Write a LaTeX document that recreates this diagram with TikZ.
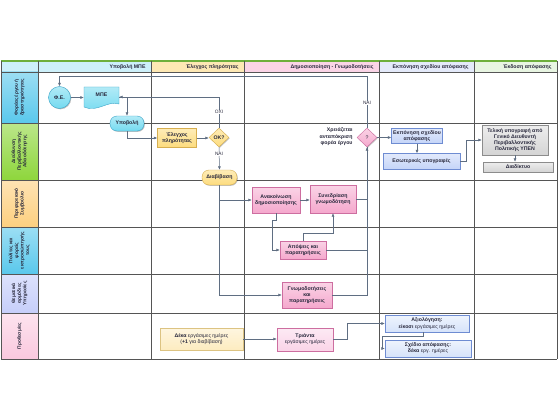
\documentclass[tikz,border=0pt]{standalone}
\usepackage{fontspec}
\setmainfont{Liberation Sans}
\usetikzlibrary{arrows.meta,shapes.geometric,shadows}
\definecolor{lineC}{RGB}{95,110,130}
\definecolor{gridC}{RGB}{85,85,85}
\definecolor{topG}{RGB}{110,175,60}
\definecolor{hA}{RGB}{205,240,250}
\definecolor{hB}{RGB}{253,232,180}
\definecolor{hC}{RGB}{250,212,230}
\definecolor{hD}{RGB}{228,234,250}
\definecolor{hE}{RGB}{232,245,226}
\definecolor{lCyan}{RGB}{90,200,236}
\definecolor{lGreen}{RGB}{142,214,60}
\definecolor{lOrange}{RGB}{253,208,128}
\definecolor{lLav}{RGB}{198,206,250}
\definecolor{lPink}{RGB}{250,200,222}
\definecolor{cyanF}{RGB}{115,218,240}
\definecolor{cyanD}{RGB}{60,165,200}
\definecolor{yelF}{RGB}{253,220,125}
\definecolor{yelD}{RGB}{215,175,80}
\definecolor{pinkF}{RGB}{245,168,205}
\definecolor{pinkD}{RGB}{205,110,160}
\definecolor{blueF}{RGB}{196,212,248}
\definecolor{blueD}{RGB}{110,140,210}
\definecolor{grayF}{RGB}{212,212,212}
\definecolor{grayD}{RGB}{140,140,140}
\definecolor{creamF}{RGB}{253,236,192}
\definecolor{creamD}{RGB}{220,195,130}
\definecolor{ltPinkF}{RGB}{250,212,232}
\definecolor{ltBlueF}{RGB}{214,227,250}
\definecolor{txtC}{RGB}{40,40,60}
\tikzset{
  conn/.style={draw=lineC, line width=0.5pt, -{Latex[length=3.5pt,width=3pt]}},
  plainln/.style={draw=lineC, line width=0.5pt},
  shad/.style={drop shadow={shadow xshift=0.8pt, shadow yshift=-0.8pt, opacity=0.25, fill=black}},
  fbox/.style={rectangle, line width=0.4pt, align=center, inner sep=0.5pt, text=txtC,
     font=\fontsize{5.2}{6}\selectfont\bfseries, shad},
  cyanbox/.style={fbox, draw=cyanD, top color=cyanF!55!white, bottom color=cyanF},
  yelbox/.style={fbox, draw=yelD, top color=yelF!55!white, bottom color=yelF},
  pinkbox/.style={fbox, draw=pinkD, top color=pinkF!50!white, bottom color=pinkF},
  bluebox/.style={fbox, draw=blueD, top color=blueF!50!white, bottom color=blueF},
  graybox/.style={fbox, draw=grayD, top color=grayF!40!white, bottom color=grayF},
  lbl/.style={fill=white, inner sep=0.5pt, text=txtC, font=\fontsize{4.8}{5}\selectfont},
  lanelbl/.style={rotate=90, align=center, text=txtC, font=\fontsize{4.8}{5.6}\selectfont\bfseries},
  hdr/.style={anchor=east, text=txtC, font=\fontsize{5.2}{5.5}\selectfont\bfseries},
}
\begin{document}
\begin{tikzpicture}[x=1pt,y=-1pt]
\useasboundingbox (0,0) rectangle (560,420);
\fill[white] (0,0) rectangle (560,420);
% header
\fill[hA] (1,61) rectangle (151,72);
\fill[hB] (151,61) rectangle (244,72);
\fill[hC] (244,61) rectangle (379,72);
\fill[hD] (379,61) rectangle (474,72);
\fill[hE] (474,61) rectangle (557,72);
\node[hdr] (h1) at (149,66.7) {Υποβολή ΜΠΕ};
\node[hdr] (h2) at (242,66.7) {Έλεγχος πληρότητας};
\node[hdr] (h3) at (377,66.7) {Δημοσιοποίηση - Γνωμοδοτήσεις};
\node[hdr] (h4) at (472,66.7) {Εκπόνηση σχεδίου απόφασης};
\node[hdr] (h5) at (555,66.7) {Έκδοση απόφασης};
% lane label cells
\shade[top color=lCyan!60!white, bottom color=lCyan] (1,72) rectangle (38,123);
\shade[top color=lGreen!60!white, bottom color=lGreen] (1,123) rectangle (38,180);
\shade[top color=lOrange!60!white, bottom color=lOrange] (1,180) rectangle (38,227);
\shade[top color=lCyan!60!white, bottom color=lCyan] (1,227) rectangle (38,274);
\shade[top color=lLav!60!white, bottom color=lLav] (1,274) rectangle (38,313);
\shade[top color=lPink!50!white, bottom color=lPink] (1,313) rectangle (38,359);
\node[lanelbl] (L1) at (19.5,97.5) {Φορέας έργου ή\\δραστηριότητας};
\node[lanelbl] (L2) at (19.5,151.5) {Διεύθυνση\\Περιβαλλοντικής\\Αδειοδότησης};
\node[lanelbl] (L3) at (19.5,203.5) {Περιφερειακό\\Συμβούλιο};
\node[lanelbl] (L4) at (19.5,250.5) {Πολίτες και\\φορείς\\εκπροσώπησής\\τους};
\node[lanelbl] (L5) at (19.5,293.5) {Θεματικά\\αρμόδιες\\Υπηρεσίες};
\node[lanelbl] (L6) at (19.5,336) {Προθεσμίες};
% grid
\draw[topG, line width=1.2pt] (1,61) -- (557,61);
\foreach \yy in {72,123,180,227,274,313,359} \draw[gridC, line width=0.8pt] (1,\yy) -- (557,\yy);
\foreach \xx in {1,38,151,244,379,474,557} \draw[gridC, line width=0.6pt] (\xx,61) -- (\xx,359);

% nodes lane 1
\node[cyanbox, circle, minimum size=22pt, inner sep=0pt] (fe) at (59.5,97.5) {Φ.Ε.};
\path[draw=cyanD, line width=0.4pt, top color=cyanF!55!white, bottom color=cyanF]
  (84,87) -- (119,87) -- (119,104) .. controls (108,100) and (97,113) .. (84,107) -- cycle;
\node[minimum width=35pt, minimum height=21pt, inner sep=0pt] (mpe) at (101.5,97) {};
\node[text=txtC, font=\fontsize{5.2}{6}\selectfont\bfseries] (mpet) at (101.5,95) {ΜΠΕ};
\node[cyanbox, rounded corners=7pt, minimum width=34pt, minimum height=15pt] (yp) at (127,123.5) {Υποβολή};

% lane 2
\node[yelbox, minimum width=39pt, minimum height=19pt] (el) at (177,138) {Έλεγχος\\πληρότητας};
\node[yelbox, diamond, minimum width=20pt, minimum height=19pt, inner sep=0pt] (ok) at (219,137.5) {OK?};
\node[yelbox, rounded corners=7pt, minimum width=35pt, minimum height=15pt] (diav) at (219.5,177.5) {Διαβίβαση};
\node[pinkbox, diamond, minimum width=20pt, minimum height=19pt, inner sep=0pt, font=\fontsize{5.2}{6}\selectfont] (q) at (367,137.5) {?};
\node[anchor=east, align=right, text=txtC, font=\fontsize{5.2}{6.4}\selectfont\bfseries] (qt) at (356,137) {Χρειάζεται\\ανταπόκριση\\φορέα έργου};
\node[bluebox, minimum width=51pt, minimum height=15pt] (ekp) at (417,136) {Εκπόνηση σχεδίου\\απόφασης};
\node[bluebox, minimum width=77pt, minimum height=16pt] (esw) at (421.5,161.5) {Εσωτερικές υπογραφές};
\node[graybox, minimum width=66pt, minimum height=30pt] (tel) at (515,140) {Τελική υπογραφή από\\Γενικό Διευθυντή\\Περιβαλλοντικής\\Πολιτικής ΥΠΕΝ};
\node[graybox, minimum width=70pt, minimum height=10pt] (diad) at (518,167) {Διαδίκτυο};

% lanes 3-5
\node[pinkbox, minimum width=48pt, minimum height=26pt] (anak) at (276,200) {Ανακοίνωση\\δημοσιοποίησης};
\node[pinkbox, minimum width=46pt, minimum height=28pt] (syned) at (333,199) {Συνεδρίαση\\γνωμοδότηση};
\node[pinkbox, minimum width=46pt, minimum height=18pt] (apo) at (303,250) {Απόψεις και\\παρατηρήσεις};
\node[pinkbox, minimum width=50pt, minimum height=26pt] (gnwm) at (307,295) {Γνωμοδοτήσεις\\και\\παρατηρήσεις};

% lane 6
\node[fbox, draw=creamD, top color=creamF!50!white, bottom color=creamF, font=\fontsize{5.2}{6.2}\selectfont, minimum width=83pt, minimum height=22pt] (deka) at (201.5,339) {\textbf{Δέκα} εργάσιμες ημέρες\\(\textbf{+1} για διαβίβαση)};
\node[fbox, draw=pinkD, top color=ltPinkF!50!white, bottom color=ltPinkF, font=\fontsize{5.2}{6.2}\selectfont, minimum width=56pt, minimum height=23pt] (triant) at (305,339.5) {\textbf{Τριάντα}\\εργάσιμες ημέρες};
\node[fbox, draw=blueD, top color=ltBlueF!40!white, bottom color=ltBlueF, font=\fontsize{5.2}{6.2}\selectfont, minimum width=84pt, minimum height=17pt] (axi) at (427,323.5) {\textbf{Αξιολόγηση:}\\\textbf{είκοσι} εργάσιμες ημέρες};
\node[fbox, draw=blueD, top color=ltBlueF!40!white, bottom color=ltBlueF, font=\fontsize{5.2}{6.2}\selectfont, minimum width=86pt, minimum height=17pt] (sxed) at (428,348.5) {\textbf{Σχέδιο απόφασης:}\\\textbf{δέκα} εργ. ημέρες};

% connectors
\draw[conn] (fe.east) -- (mpe.west |- fe.east);
\draw[conn] (q.north) -- (367,76) -| (fe.north);
\node[lbl] (nai1) at (367,103) {ΝΑΙ};
\draw[conn] (ok.north) |- (mpe.east);
\node[lbl] (oxi) at (219,112) {ΟΧΙ};
\draw[conn] (mpe.east) -| (yp.north);
\draw[conn] (yp.south) |- (el.west);
\draw[conn] (el.east) -- (ok.west |- el.east);
\draw[conn] (ok.south) -- (diav.north);
\node[lbl] (nai2) at (219,154) {ΝΑΙ};
\draw[conn] (diav.south) |- (anak.west);
\draw[conn] (diav.south) |- (gnwm.west);
\draw[conn] (anak.east) -- (anak.east -| syned.west);
\draw[conn] (anak.south) -- ++(0,7) -| ([xshift=-8pt]apo.west) -- (apo.west);
\draw[conn] (apo.north) -- ++(0,-8) -| (syned.south);
\draw[plainln] (syned.east) -| (q.south);
\draw[plainln] (apo.east) -| (q.south);
\draw[conn] (gnwm.east) -| (q.south);
\draw[conn] (q.east) -- (q.east -| ekp.west);
\draw[conn] (ekp.south) -- (ekp.south |- esw.north);
\draw[conn] (esw.east) -- ++(6,0) |- (tel.west);
\draw[conn] (tel.south) -- (tel.south |- diad.north);
\draw[conn] (deka.east) -- (deka.east -| triant.west);
\draw[conn] (triant.east) -- ++(14,0) |- (axi.west);
\draw[conn] ([xshift=-4pt]axi.south) -- ++(0,4) -| ([xshift=-3pt]sxed.west) -- (sxed.west);
\end{tikzpicture}
\end{document}
